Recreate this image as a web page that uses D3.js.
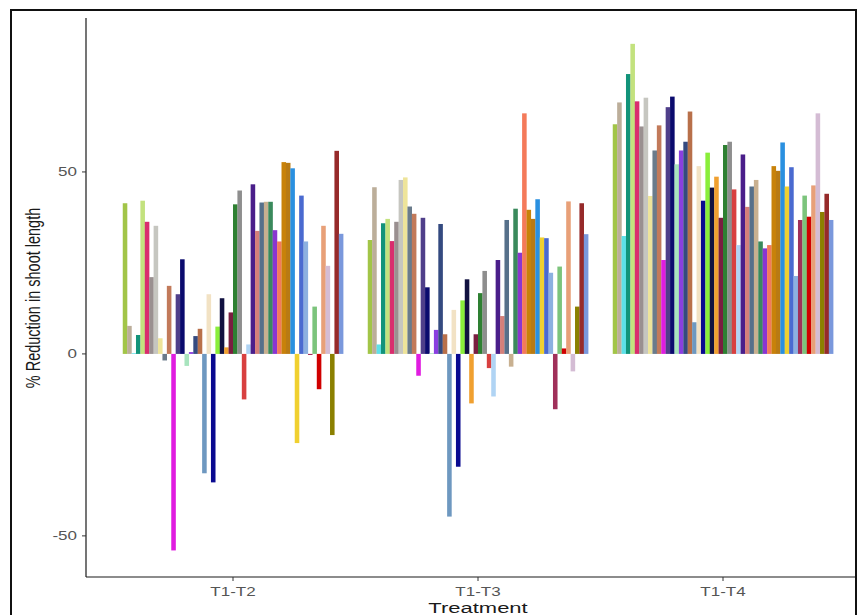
<!DOCTYPE html>
<html>
<head>
<meta charset="utf-8">
<script src="https://cdn.jsdelivr.net/npm/d3@7"></script>
<style>
  html, body { margin: 0; padding: 0; background: #ffffff; }
  svg { display: block; }
  text { font-family: Arial, "Liberation Sans", sans-serif; }
</style>
</head>
<body>
<svg id="chart" width="866" height="615"></svg>
<script>
// Treatment comparisons on the x axis
const categories = ["T1-T2", "T1-T3", "T1-T4"];

// One fill colour per genotype (50 genotypes, dodged within each treatment)
const genotypeColors = [
  "#A2C548", "#BCAE9A", "#5EE0E8", "#12937A", "#C3E27E",
  "#D92D6E", "#9A9090", "#C6C6C0", "#EEE49A", "#6A7B8B",
  "#C27A5A", "#E01CE0", "#4F3F8A", "#0B0B6E", "#A8E4BE",
  "#8A3FE0", "#344A80", "#B8704A", "#6E98C0", "#F2E2C4",
  "#0A0A90", "#8AEE3A", "#111140", "#F0A030", "#7A1E40",
  "#2E8032", "#8E8E8E", "#D84040", "#B0D4F4", "#4A1E8A",
  "#D4807A", "#56708A", "#C8B090", "#3A8A5C", "#8A36D0",
  "#F47A5A", "#C8820A", "#B87A14", "#2A90E0", "#F0D030",
  "#4A6AD0", "#8CB0E0", "#A0305A", "#7CC47C", "#D00000",
  "#E8A078", "#D4BCD4", "#8B8000", "#962A2A", "#7A98DC"
];

// % reduction in shoot length per genotype, one array per treatment
const valuesT1T2 = [
  41.4, 7.7, 0.2, 5.2, 42.1, 36.3, 21.1, 35.2, 4.3, -1.8,
  18.7, -54.0, 16.4, 26.0, -3.3, 0.5, 4.9, 6.9, -32.8, 16.4,
  -35.3, 7.5, 15.3, 1.8, 11.4, 41.1, 44.9, -12.5, 2.6, 46.6,
  33.8, 41.6, 41.8, 41.8, 34.0, 30.9, 52.7, 52.5, 51.0, -24.5,
  43.5, 30.9, -0.3, 13.0, -9.7, 35.2, 24.2, -22.3, 55.8, 33.0
];
const valuesT1T3 = [
  31.3, 45.8, 2.6, 35.9, 37.1, 31.0, 36.3, 47.8, 48.5, 40.5,
  38.5, -6.0, 37.4, 18.3, 0.2, 6.6, 35.7, 5.4, -44.7, 12.1,
  -31.0, 14.7, 20.5, -13.6, 5.4, 16.7, 22.8, -3.9, -11.7, 25.8,
  10.4, 36.8, -3.5, 39.9, 27.8, 66.1, 39.6, 37.1, 42.5, 32.0,
  31.8, 22.3, -15.2, 24.0, 1.5, 41.9, -4.8, 13.0, 41.4, 32.9
];
const valuesT1T4 = [
  63.1, 69.1, 32.4, 76.9, 85.2, 69.4, 62.5, 70.4, 43.4, 55.9,
  62.8, 25.8, 67.8, 70.7, 52.1, 55.9, 58.3, 66.6, 8.7, 51.6,
  42.1, 55.3, 45.7, 48.7, 37.4, 57.4, 58.3, 45.2, 29.9, 54.8,
  40.4, 46.0, 47.8, 30.9, 29.0, 29.9, 51.6, 50.3, 58.1, 46.0,
  51.3, 21.4, 36.8, 43.5, 37.7, 46.3, 66.1, 39.0, 44.0, 36.8
];

const yTicks = [-50, 0, 50];
const yTitle = "% Reduction in shoot length";
const xTitle = "Treatment";

const seriesByCategory = [valuesT1T2, valuesT1T3, valuesT1T4];

const svg = d3.select("#chart");
const textStretch = 1.42;

// panel geometry
const panel = { left: 86, right: 870, top: 18, bottom: 577 };

const x = d3.scalePoint()
  .domain(categories)
  .range([panel.left, panel.right])
  .padding(0.6);
const step = x.step();

const y = d3.scaleLinear()
  .domain([-61.3, 92.3])
  .range([panel.bottom, panel.top]);

const genotypeIdx = d3.range(genotypeColors.length);

// bars
const clipId = "panel-clip";
svg.append("clipPath").attr("id", clipId)
  .append("rect")
  .attr("x", panel.left).attr("y", panel.top)
  .attr("width", 856 - panel.left).attr("height", panel.bottom - panel.top);

const barsG = svg.append("g").attr("clip-path", `url(#${clipId})`);

categories.forEach((cat, ci) => {
  const cx = x(cat);
  const inner = d3.scaleBand()
    .domain(genotypeIdx)
    .range([cx - 0.45 * step, cx + 0.45 * step])
    .padding(0);
  const vals = seriesByCategory[ci];
  barsG.append("g")
    .selectAll("rect")
    .data(genotypeIdx)
    .join("rect")
    .attr("x", i => inner(i))
    .attr("width", inner.bandwidth() + 0.15)
    .attr("y", i => y(Math.max(0, vals[i])))
    .attr("height", i => Math.abs(y(vals[i]) - y(0)))
    .attr("fill", i => genotypeColors[i]);
});

// y axis
const yAxis = svg.append("g");
yAxis.append("line")
  .attr("x1", panel.left).attr("x2", panel.left)
  .attr("y1", panel.top).attr("y2", panel.bottom)
  .attr("stroke", "#1a1a1a").attr("stroke-width", 1.2);
yTicks.forEach(t => {
  yAxis.append("line")
    .attr("x1", panel.left - 4).attr("x2", panel.left)
    .attr("y1", y(t)).attr("y2", y(t))
    .attr("stroke", "#333").attr("stroke-width", 1);
  yAxis.append("text")
    .attr("transform", `translate(77,${y(t) + 4.3}) scale(${textStretch},1)`)
    .attr("text-anchor", "end")
    .attr("font-size", 12)
    .attr("fill", "#555")
    .text(t);
});

// x axis
const xAxis = svg.append("g");
xAxis.append("line")
  .attr("x1", panel.left).attr("x2", 856)
  .attr("y1", panel.bottom).attr("y2", panel.bottom)
  .attr("stroke", "#1a1a1a").attr("stroke-width", 1.2);
categories.forEach(c => {
  xAxis.append("line")
    .attr("x1", x(c)).attr("x2", x(c))
    .attr("y1", panel.bottom).attr("y2", panel.bottom + 4)
    .attr("stroke", "#333").attr("stroke-width", 1);
  xAxis.append("text")
    .attr("transform", `translate(${x(c)},595.5) scale(${textStretch},1)`)
    .attr("text-anchor", "middle")
    .attr("font-size", 12)
    .attr("fill", "#555")
    .text(c);
});

// axis titles
svg.append("text")
  .attr("transform", `translate(478,612.5) scale(${textStretch},1)`)
  .attr("text-anchor", "middle")
  .attr("font-size", 15.5)
  .attr("fill", "#1a1a1a")
  .text(xTitle);

svg.append("text")
  .attr("transform", `translate(40,298) scale(${textStretch},1) rotate(-90)`)
  .attr("text-anchor", "middle")
  .attr("font-size", 14.5)
  .attr("fill", "#1a1a1a")
  .text(yTitle);

// outer frame
svg.append("rect")
  .attr("x", 11).attr("y", 10)
  .attr("width", 845).attr("height", 640)
  .attr("fill", "none")
  .attr("stroke", "#111")
  .attr("stroke-width", 2);
</script>
</body>
</html>
